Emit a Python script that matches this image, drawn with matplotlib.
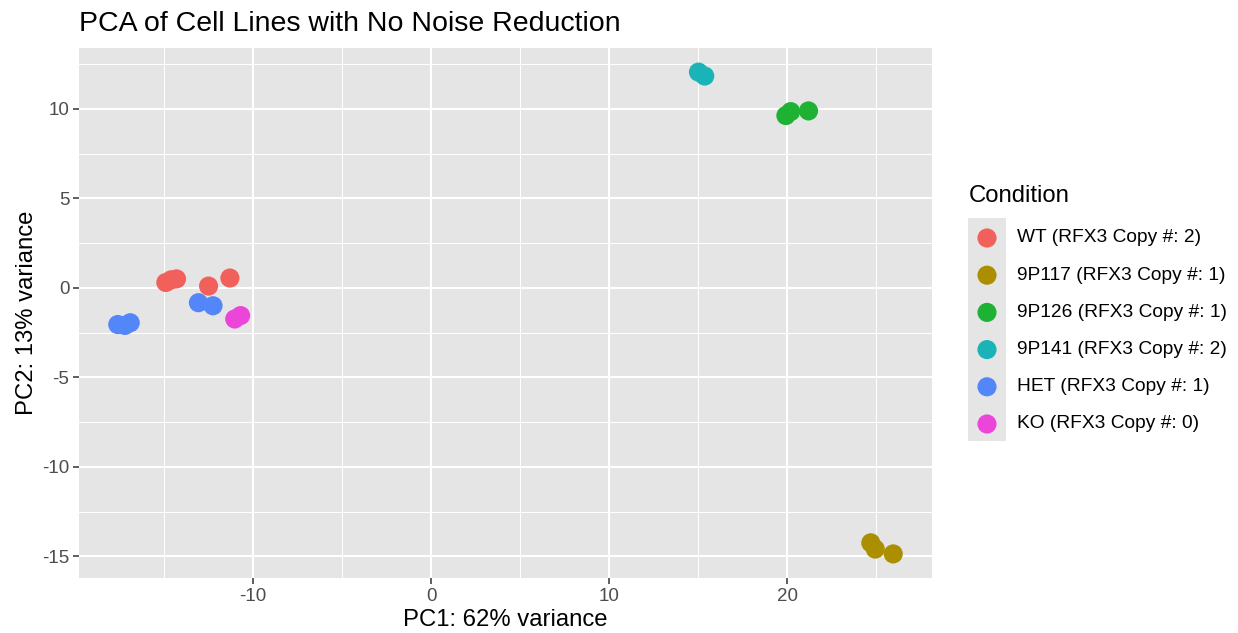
import matplotlib.pyplot as plt
from matplotlib.patches import Rectangle

plt.rcParams['font.family'] = ['Liberation Sans', 'DejaVu Sans']
plt.rcParams['axes.unicode_minus'] = False

# PCA coordinates per condition
conditions = ['WT (RFX3 Copy #: 2)', '9P117 (RFX3 Copy #: 1)', '9P126 (RFX3 Copy #: 1)',
              '9P141 (RFX3 Copy #: 2)', 'HET (RFX3 Copy #: 1)', 'KO (RFX3 Copy #: 0)']
colors = ['#F2605B', '#AB8F00', '#1DB233', '#1AB4B8', '#5286F9', '#EC45DA']

wt_pc1 = [-14.9, -14.6, -14.3, -12.5, -11.3]
wt_pc2 = [0.30, 0.45, 0.50, 0.10, 0.55]
p117_pc1 = [24.7, 24.95, 25.96]
p117_pc2 = [-14.25, -14.6, -14.87]
p126_pc1 = [19.93, 20.2, 21.2]
p126_pc2 = [9.63, 9.85, 9.89]
p141_pc1 = [15.02, 15.37]
p141_pc2 = [12.06, 11.84]
het_pc1 = [-17.6, -17.2, -16.9, -13.07, -12.25]
het_pc2 = [-2.05, -2.1, -1.95, -0.83, -1.0]
ko_pc1 = [-11.03, -10.7]
ko_pc2 = [-1.74, -1.55]

pc1 = [wt_pc1, p117_pc1, p126_pc1, p141_pc1, het_pc1, ko_pc1]
pc2 = [wt_pc2, p117_pc2, p126_pc2, p141_pc2, het_pc2, ko_pc2]

W, H = 1238, 633
fig = plt.figure(figsize=(W / 100, H / 100), dpi=100)
ax = fig.add_axes([79 / W, 1 - 578 / H, (932 - 79) / W, (578 - 48) / H])

ax.set_facecolor('#E5E5E5')
for s in ax.spines.values():
    s.set_visible(False)

for xs, ys, c in zip(pc1, pc2, colors):
    ax.scatter(xs, ys, s=190, color=c, edgecolors='none', zorder=3)

# ggplot-style 5% expansion
allx = sum(pc1, [])
ally = sum(pc2, [])
dx = (max(allx) - min(allx)) * 0.05
dy = (max(ally) - min(ally)) * 0.05
ax.set_xlim(min(allx) - dx, max(allx) + dx)
ax.set_ylim(min(ally) - dy, max(ally) + dy)

ax.set_xticks([-10, 0, 10, 20])
ax.set_yticks([-15, -10, -5, 0, 5, 10])
ax.set_xticks([-15, -5, 5, 15, 25], minor=True)
ax.set_yticks([-12.5, -7.5, -2.5, 2.5, 7.5, 12.5], minor=True)
ax.grid(which='major', color='white', linewidth=1.5, zorder=0)
ax.grid(which='minor', color='white', linewidth=0.75, zorder=0)
ax.set_axisbelow(True)
ax.tick_params(which='major', length=4, width=1.1, color='#333333',
               labelsize=13.5, labelcolor='#4D4D4D', pad=3)
ax.tick_params(which='minor', length=0)

ax.set_xlabel('PC1: 62% variance', fontsize=17.2, labelpad=3)
ax.set_ylabel('PC2: 13% variance', fontsize=17.2, labelpad=3)
ax.set_title('PCA of Cell Lines with No Noise Reduction', fontsize=20.5, loc='left', pad=12)

# legend panel
lg = fig.add_axes([0, 0, 1, 1], facecolor='none')
lg.set_xlim(0, W)
lg.set_ylim(H, 0)
lg.axis('off')
lg.text(969, 196, 'Condition', fontsize=17.2, va='center', ha='left')
lg.add_patch(Rectangle((968, 218), 38, 223, facecolor='#E5E5E5', edgecolor='none'))
for i, (lab, c) in enumerate(zip(conditions, colors)):
    yy = 238 + i * 37.2
    lg.scatter([987], [yy], s=190, color=c, edgecolors='none')
    lg.text(1017, yy, lab, fontsize=13.8, va='center', ha='left')

fig.savefig('out.png', dpi=100)
